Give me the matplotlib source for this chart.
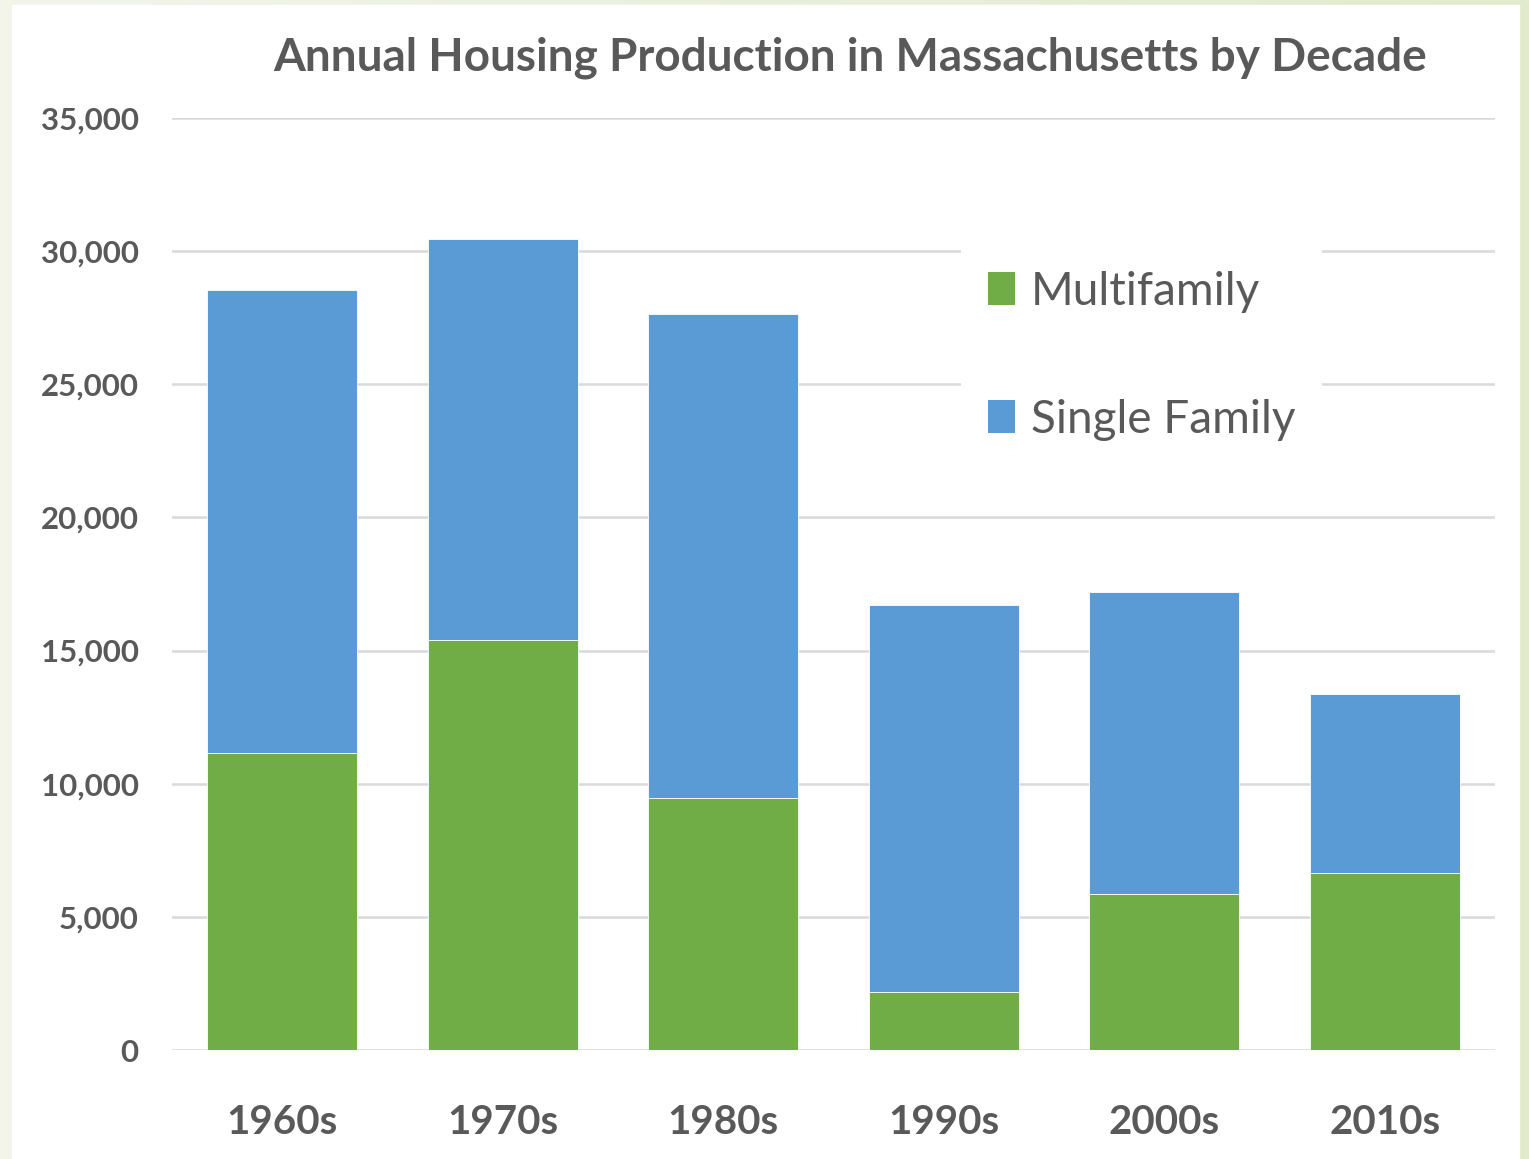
import numpy as np
import matplotlib.pyplot as plt
from matplotlib.patches import Rectangle, Patch
from matplotlib.ticker import FuncFormatter

decades = ["1960s", "1970s", "1980s", "1990s", "2000s", "2010s"]
multifamily = [11150, 15400, 9460, 2180, 5860, 6650]
single_family = [17390, 15050, 18180, 14530, 11340, 6720]

GREEN = "#70ad47"
BLUE = "#5b9bd5"
TEXT = "#595959"
GRID = "#d9d9d9"

plt.rcParams["font.family"] = ["Lato", "DejaVu Sans"]

W, H = 1529, 1159
fig = plt.figure(figsize=(W / 100, H / 100), dpi=100)

# pale green page behind the white chart panel
bg = fig.add_axes([0, 0, 1, 1], zorder=-10)
grad = np.linspace(0, 1, 256)[None, :, None]
left_c = np.array([0.953, 0.961, 0.922])
right_c = np.array([0.886, 0.918, 0.800])
bg.imshow(left_c + (right_c - left_c) * grad, aspect="auto", extent=[0, 1, 0, 1])
bg.add_patch(Rectangle((12 / W, 0), (1519 - 12) / W, 1 - 5 / H, color="white"))
bg.set_xlim(0, 1)
bg.set_ylim(0, 1)
bg.axis("off")

ax = fig.add_axes([172 / W, 1 - 1050 / H, (1495 - 172) / W, (1050 - 118) / H])
x = np.arange(len(decades))
ax.bar(x, multifamily, width=0.68, color=GREEN, edgecolor="white", linewidth=0.6, zorder=3)
ax.bar(x, single_family, width=0.68, bottom=multifamily, color=BLUE,
       edgecolor="white", linewidth=0.6, zorder=3)

ax.set_xlim(-0.5, len(decades) - 0.5)
ax.set_ylim(0, 35000)
ax.set_yticks(np.arange(0, 35001, 5000))
ax.yaxis.set_major_formatter(FuncFormatter(lambda v, p: f"{int(v):,}"))
ax.set_xticks(x)
ax.set_xticklabels(decades)
ax.grid(axis="y", color=GRID, linewidth=1.8, zorder=0)
ax.set_axisbelow(True)
for s in ax.spines.values():
    s.set_visible(False)
ax.tick_params(axis="y", length=0, pad=24, labelsize=22.5, labelcolor=TEXT)
ax.tick_params(axis="x", length=0, pad=39, labelsize=29, labelcolor=TEXT)
for lbl in ax.get_yticklabels() + ax.get_xticklabels():
    lbl.set_fontweight("bold")

fig.text(850 / W, 1 - 58 / H, "Annual Housing Production in Massachusetts by Decade",
         ha="center", va="center", fontsize=33, fontweight="bold", color=TEXT)

handles = [Patch(facecolor=GREEN, edgecolor="none", label="Multifamily"),
           Patch(facecolor=BLUE, edgecolor="none", label="Single Family")]
leg = fig.legend(handles=handles, loc="upper left",
                 bbox_to_anchor=(961 / W, 1 - 244 / H), frameon=True,
                 facecolor="white", edgecolor="none", framealpha=1,
                 fontsize=33, labelcolor=TEXT, handlelength=0.59, handleheight=0.74,
                 handletextpad=0.35, labelspacing=1.88, borderpad=0.58,
                 borderaxespad=0, fancybox=False)

fig.savefig("out.png", dpi=100, facecolor=fig.get_facecolor())
